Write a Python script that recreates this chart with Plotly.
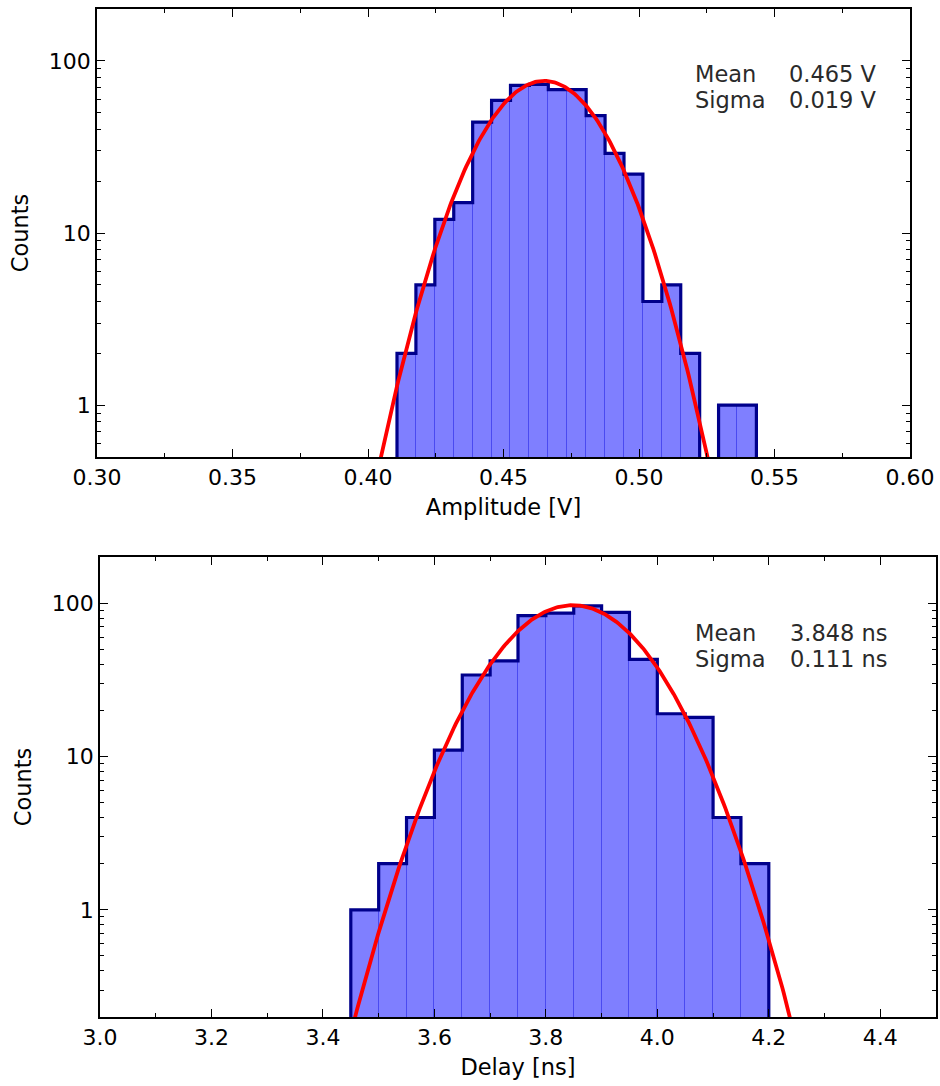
import numpy as np
import plotly.graph_objects as go

# ---------------- data ----------------
amp_bin_start = 0.4107
amp_bin_width = 0.00698
amp_counts = [2, 5, 12, 15, 44, 59, 72, 73, 68, 68, 48, 29, 22, 4, 5, 2, 0, 1, 1]
amp_fit_mean = 0.465
amp_fit_sigma = 0.019
amp_fit_peak = 76.5

delay_bin_start = 3.45
delay_bin_width = 0.05
delay_counts = [1, 2, 4, 11, 34, 42, 83, 86, 96, 87, 43, 19, 18, 4, 2]
delay_fit_mean = 3.848
delay_fit_sigma = 0.111
delay_fit_peak = 97

amp_range = [0.30, 0.60]
delay_range = [3.0, 4.5]

W, H = 940, 1086
FONT = "DejaVu Sans"


def px_x(p):
    return p / W


def px_y(p):
    return 1 - p / H


fig = go.Figure()


def add_hist(counts, start, width, xa, ya):
    counts = np.asarray(counts, dtype=float)
    n = len(counts)
    edges = start + width * np.arange(n + 1)
    centers = edges[:-1] + width / 2
    fig.add_trace(go.Bar(
        x=centers, y=counts, width=width,
        marker=dict(color="rgba(0,0,255,0.5)",
                    line=dict(color="rgba(40,40,230,0.4)", width=1)),
        xaxis=xa, yaxis=ya, showlegend=False, hoverinfo="skip"))
    floor = 1e-3
    xs = np.concatenate([[edges[0]], edges])
    ys = np.concatenate([[floor], np.where(counts > 0, counts, floor), [floor]])
    fig.add_trace(go.Scatter(
        x=xs, y=ys, mode="lines", line=dict(color="#00008B", width=3.2, shape="hv"),
        xaxis=xa, yaxis=ya, showlegend=False, hoverinfo="skip"))


def add_fit(mean, sigma, peak, xa, ya, xr):
    xg = np.linspace(xr[0], xr[1], 600)
    yg = peak * np.exp(-0.5 * ((xg - mean) / sigma) ** 2)
    fig.add_trace(go.Scatter(
        x=xg, y=yg, mode="lines", line=dict(color="#FF0000", width=3.8),
        xaxis=xa, yaxis=ya, showlegend=False, hoverinfo="skip"))


add_hist(amp_counts, amp_bin_start, amp_bin_width, "x", "y")
add_fit(amp_fit_mean, amp_fit_sigma, amp_fit_peak, "x", "y", amp_range)
add_hist(delay_counts, delay_bin_start, delay_bin_width, "x2", "y2")
add_fit(delay_fit_mean, delay_fit_sigma, delay_fit_peak, "x2", "y2", delay_range)

tickfont = dict(family=FONT, size=22, color="black")
titlefont = dict(family=FONT, size=22.5, color="black")

common_x = dict(showline=True, linecolor="black", linewidth=1.6, mirror="ticks",
                ticks="inside", ticklen=8, tickwidth=1.3, tickcolor="black",
                showgrid=False, zeroline=False, tickfont=tickfont, automargin=False)
common_y = dict(common_x)
minor_common = dict(ticks="inside", ticklen=4.5, tickwidth=1.2, tickcolor="black", showgrid=False)

fig.update_layout(
    width=W, height=H,
    margin=dict(l=0, r=0, t=0, b=0),
    paper_bgcolor="white", plot_bgcolor="white",
    barmode="overlay", bargap=0,
    font=dict(family=FONT),
    xaxis=dict(common_x, domain=[px_x(97), px_x(910)], range=amp_range, anchor="y",
               dtick=0.05, tick0=0.30, tickformat=".2f",
               minor=dict(minor_common, dtick=0.025),
               title=dict(text="Amplitude [V]", font=titlefont, standoff=10)),
    yaxis=dict(common_y, domain=[px_y(457), px_y(9)], type="log",
               range=[np.log10(0.5), np.log10(200)], anchor="x", dtick=1,
               minor=dict(minor_common, dtick="D1"),
               title=dict(text="Counts", font=titlefont, standoff=14)),
    xaxis2=dict(common_x, domain=[px_x(100), px_x(936)], range=delay_range, anchor="y2",
                dtick=0.2, tick0=3.0, tickformat=".1f",
                minor=dict(minor_common, dtick=0.1),
                title=dict(text="Delay [ns]", font=titlefont, standoff=10)),
    yaxis2=dict(common_y, domain=[px_y(1017), px_y(557)], type="log",
                range=[np.log10(0.2), np.log10(200)], anchor="x2", dtick=1,
                minor=dict(minor_common, dtick="D1"),
                title=dict(text="Counts", font=titlefont, standoff=14)),
)

stats = [
    ("Mean", "0.465 V", 73.5, 693, 787),
    ("Sigma", "0.019 V", 100, 693, 787),
    ("Mean", "3.848 ns", 633, 693, 788),
    ("Sigma", "0.111 ns", 659, 693, 788),
]
annfont = dict(family=FONT, size=22.5, color="#2a2a2a")
for lab, val, yc, xl, xv in stats:
    for txt, xx in ((lab, xl), (val, xv)):
        fig.add_annotation(text=txt, x=px_x(xx), y=px_y(yc), xref="paper", yref="paper",
                           xanchor="left", yanchor="middle", showarrow=False, font=annfont)

fig.write_html("out.html", config={"displayModeBar": False},
               post_script="document.body.style.margin='0';document.body.style.overflow='hidden';")
